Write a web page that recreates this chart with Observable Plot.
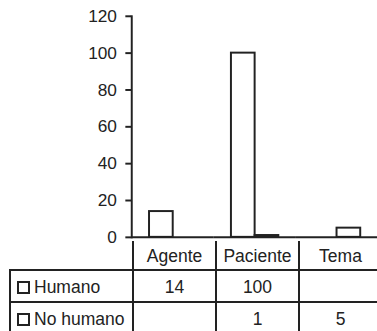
<!DOCTYPE html>
<html>
<head>
<meta charset="utf-8">
<script src="https://cdn.jsdelivr.net/npm/d3@7"></script>
<script src="https://cdn.jsdelivr.net/npm/@observablehq/plot@0.6"></script>
<style>
  html, body { margin: 0; padding: 0; background: #fff; overflow: hidden; }
  body { width: 377px; height: 331px; position: relative; font-family: "Liberation Sans", Arial, sans-serif; color: #222; }
  #chart { position: absolute; left: 0; top: 0; }
  #chart svg g[aria-label="y-axis tick"] path { stroke-width: 2px; }
  #table { position: absolute; left: 9px; top: 241px; font-size: 17.5px; }
  .row { display: flex; }
  .cell { box-sizing: border-box; border-right: 2px solid #222; border-bottom: 2px solid #222;
          display: flex; align-items: center; justify-content: center; white-space: nowrap; padding-top: 2px; }
  .first { width: 125px; justify-content: flex-start; }
  .other { width: 83px; }
  .lb { border-left: 2px solid #222; }
  .sq { display: inline-block; width: 9px; height: 9px; border: 2px solid #222; margin: 0 4px 0 6px; background: #fff; }
</style>
</head>
<body>
<div id="chart"></div>
<div id="table"></div>
<script>
const categories = ["Agente", "Paciente", "Tema"];
const series = ["Humano", "No humano"];
const humano = [14, 100, null];
const noHumano = [null, 1, 5];
const yTicks = [0, 20, 40, 60, 80, 100, 120];

const values = [humano, noHumano];
const data = [];
series.forEach((s, si) => categories.forEach((c, ci) => {
  if (values[si][ci] != null) data.push({cat: c, series: s, value: values[si][ci]});
}));

const plot = Plot.plot({
  width: 382,
  height: 241,
  marginLeft: 133,
  marginRight: 0,
  marginTop: 16,
  marginBottom: 1,
  style: {fontFamily: '"Liberation Sans", Arial, sans-serif', fontSize: "17.5px", color: "#222", overflow: "visible"},
  fx: {domain: categories, padding: 0, axis: null, label: null},
  x: {domain: series, paddingInner: 0, paddingOuter: 0.69, axis: null},
  y: {domain: [0, 120], axis: null},
  marks: [
    Plot.barY(data, {fx: "cat", x: "series", y: "value", fill: "white", stroke: "#222", strokeWidth: 2}),
    Plot.ruleY([0], {stroke: "#222", strokeWidth: 2}),
    Plot.frame({anchor: "left", facetAnchor: "left", stroke: "#222", strokeWidth: 2}),
    Plot.axisY({ticks: yTicks, tickSize: 6, tickPadding: 9, strokeWidth: 2, fontSize: 17.5, label: null, facetAnchor: "left"})
  ]
});
document.getElementById("chart").appendChild(plot);

// Data table beneath the chart
const table = document.getElementById("table");
function row(firstHTML, cells, firstClass, height) {
  const r = document.createElement("div");
  r.className = "row";
  r.style.height = height + "px";
  const f = document.createElement("div");
  f.className = "cell first " + firstClass;
  f.innerHTML = firstHTML;
  r.appendChild(f);
  cells.forEach(v => {
    const c = document.createElement("div");
    c.className = "cell other";
    c.textContent = v == null ? "" : v;
    r.appendChild(c);
  });
  table.appendChild(r);
}
row("", categories, "", 30);
row('<span class="sq"></span>' + series[0], humano, "lb", 32);
row('<span class="sq"></span>' + series[1], noHumano, "lb", 32);
</script>
</body>
</html>
